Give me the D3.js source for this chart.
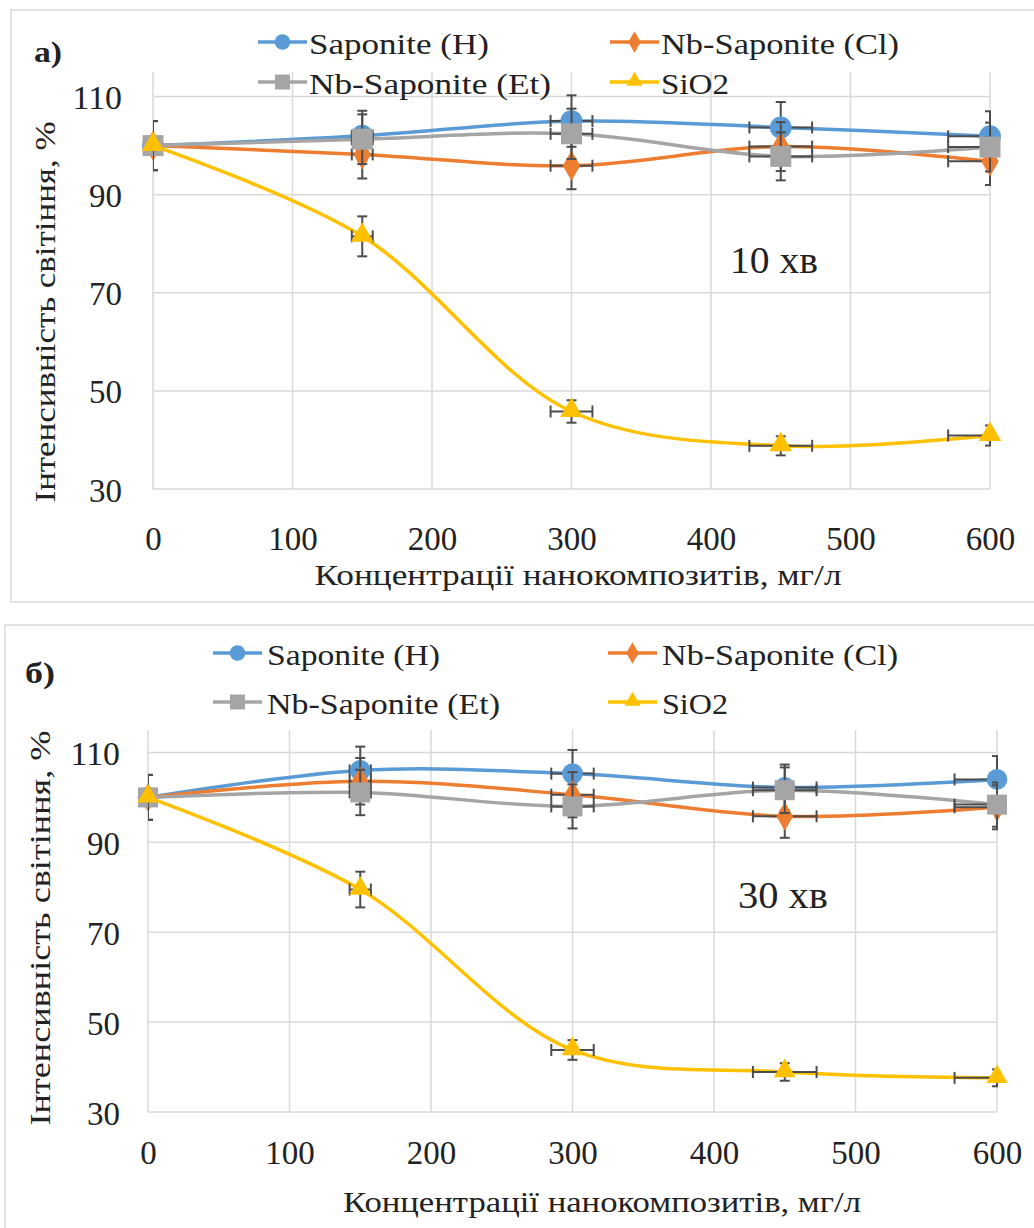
<!DOCTYPE html>
<html>
<head>
<meta charset="utf-8">
<script src="https://cdn.jsdelivr.net/npm/d3@7"></script>
<style>
  body { margin: 0; background: #fff; }
  svg text { font-family: "Liberation Serif", "Times New Roman", "DejaVu Serif", serif; fill: #222; }
</style>
</head>
<body>
<div id="main"></div>
<script>
// ---- data ----
const concentrations = [0, 150, 300, 450, 600];
const seriesNames = ["Saponite (H)", "Nb-Saponite (Cl)", "Nb-Saponite (Et)", "SiO2"];
const seriesColors = ["#5B9BD5", "#ED7D31", "#A5A5A5", "#FFC000"];
const seriesMarkers = ["circle", "diamond", "square", "triangle"];

// 10 хв
const sapH_10 = [100, 102, 105, 103.7, 101.9];
const nbCl_10 = [100, 98.2, 95.9, 99.8, 96.8];
const nbEt_10 = [100, 101.3, 102.4, 97.8, 99.7];
const sio2_10 = [100, 81.5, 45.8, 38.8, 40.9];

// 30 хв
const sapH_30 = [100, 106, 105.3, 102.2, 104];
const nbCl_30 = [100, 103.6, 100.6, 95.8, 97.8];
const nbEt_30 = [100, 101.1, 98, 101.6, 98.4];
const sio2_30 = [100, 79.5, 43.8, 38.9, 37.6];

// error bars (percentage, both directions)
const errorPercent = 5;

const yTicks = [30, 50, 70, 90, 110];
const xTicks = [0, 100, 200, 300, 400, 500, 600];

const yTitle = "Інтенсивність світіння, %";
const xTitle = "Концентрації нанокомпозитів, мг/л";

const svgWidth = 1034, svgHeight = 1228;
const digitW = 16.5;   // tick label width per digit
const tickStretch = 1.15;

var svg = d3.select("#main").append("svg")
  .attr("width", svgWidth).attr("height", svgHeight);

function addText(g, x, y, str, size, len, opts) {
  opts = opts || {};
  var t = g.append("text")
    .attr("transform", "translate(" + x + "," + y + ")" + (opts.rotate ? " rotate(-90)" : ""))
    .attr("font-size", size)
    .attr("text-anchor", opts.anchor || "start")
    .text(str);
  if (len) t.attr("textLength", len).attr("lengthAdjust", "spacingAndGlyphs");
  if (opts.bold) t.attr("font-weight", "bold");
  return t;
}

function marker(g, type, x, y, color, s) {
  if (type == "circle") {
    g.append("circle").attr("cx", x).attr("cy", y).attr("r", s * 0.52).attr("fill", color);
  } else {
    var sym = type == "diamond" ? d3.symbolDiamond : type == "square" ? d3.symbolSquare : d3.symbolTriangle;
    var area = type == "square" ? s * s : type == "diamond" ? s * s * 0.6 : s * s * 0.5;
    g.append("path").attr("d", d3.symbol().type(sym).size(area)())
      .attr("transform", "translate(" + x + "," + (type == "triangle" ? y - 1 : y) + ")")
      .attr("fill", color);
  }
}

function drawPanel(cfg, series) {
  var g = svg.append("g");

  // frame
  g.append("rect").attr("x", cfg.frame[0]).attr("y", cfg.frame[1])
    .attr("width", cfg.frame[2]).attr("height", cfg.frame[3])
    .attr("fill", "none").attr("stroke", "#d9d9d9").attr("stroke-width", 1.5);

  var x = d3.scaleLinear().domain([0, 600]).range([cfg.x0, cfg.x1]);
  var y = d3.scaleLinear().domain([30, 115]).range([cfg.y30, cfg.y115]);

  // grid
  g.append("g").selectAll("line").data(yTicks).enter().append("line")
    .attr("x1", x(0)).attr("x2", x(600))
    .attr("y1", d => y(d)).attr("y2", d => y(d))
    .attr("stroke", "#d9d9d9").attr("stroke-width", 1.5);
  g.append("g").selectAll("line").data(xTicks).enter().append("line")
    .attr("x1", d => x(d)).attr("x2", d => x(d))
    .attr("y1", y(30)).attr("y2", y(115))
    .attr("stroke", "#d9d9d9").attr("stroke-width", 1.5);

  // axes (labels only)
  var yAxis = g.append("g").attr("transform", "translate(" + x(0) + ",0)")
    .call(d3.axisLeft(y).tickValues(yTicks).tickSize(0).tickPadding(cfg.yPad));
  var xAxis = g.append("g").attr("transform", "translate(0," + y(30) + ")")
    .call(d3.axisBottom(x).tickValues(xTicks).tickSize(0).tickPadding(0));
  [yAxis, xAxis].forEach(function (a) {
    a.select(".domain").remove();
    a.selectAll("text").attr("font-size", 30).attr("fill", "#222")
      .attr("dy", 0)
      .attr("textLength", d => String(d).length * digitW)
      .attr("lengthAdjust", "spacingAndGlyphs");
  });
  yAxis.selectAll("text").attr("transform", "translate(0,12) scale(1," + tickStretch + ")");
  xAxis.selectAll("text").attr("y", 0)
    .attr("transform", "translate(0," + cfg.xBase + ") scale(1," + tickStretch + ")");

  // titles
  addText(g, cfg.xTitle[0], cfg.xTitle[1], xTitle, 30, cfg.xTitle[2], { anchor: "middle" });
  addText(g, cfg.yTitle[0], cfg.yTitle[1], yTitle, 30, cfg.yTitle[2], { anchor: "middle", rotate: true });
  addText(g, cfg.label[0], cfg.label[1], cfg.labelText, 30, cfg.label[2], { bold: true });
  addText(g, cfg.note[0], cfg.note[1], cfg.noteText, 38, cfg.note[2]);

  // legend
  series.forEach(function (s, i) {
    var lx = cfg.legX[i % 2], ly = cfg.legY[Math.floor(i / 2)];
    g.append("line").attr("x1", lx).attr("x2", lx + 49).attr("y1", ly).attr("y2", ly)
      .attr("stroke", seriesColors[i]).attr("stroke-width", 3.5);
    marker(g, seriesMarkers[i], lx + 24.5, ly, seriesColors[i], 15);
    addText(g, lx + cfg.legGap, ly + 12, seriesNames[i], 30, cfg.legW[i]);
  });

  // clip for error bars
  var clipId = "clip" + cfg.labelText.charCodeAt(0);
  g.append("clipPath").attr("id", clipId).append("rect")
    .attr("x", x(0)).attr("y", y(115)).attr("width", x(600) - x(0) + 1).attr("height", y(30) - y(115));

  var line = d3.line().x((d, j) => x(concentrations[j])).y(d => y(d))
    .curve(d3.curveCatmullRom.alpha(0.5));

  series.forEach(function (vals, i) {
    var sg = g.append("g");
    sg.append("path").attr("d", line(vals)).attr("fill", "none")
      .attr("stroke", seriesColors[i]).attr("stroke-width", 3.5);

    var eg = sg.append("g").attr("clip-path", "url(#" + clipId + ")")
      .attr("stroke", "#4d4d4d").attr("stroke-width", 2);
    vals.forEach(function (v, j) {
      var cx = x(concentrations[j]), cy = y(v);
      var ey = v * errorPercent / 100, ex = concentrations[j] * errorPercent / 100;
      eg.append("line").attr("x1", cx).attr("x2", cx).attr("y1", y(v + ey)).attr("y2", y(v - ey));
      eg.append("line").attr("x1", cx - 5).attr("x2", cx + 5).attr("y1", y(v + ey)).attr("y2", y(v + ey));
      eg.append("line").attr("x1", cx - 5).attr("x2", cx + 5).attr("y1", y(v - ey)).attr("y2", y(v - ey));
      if (ex > 0) {
        var xl = x(concentrations[j] - ex), xr = x(concentrations[j] + ex);
        eg.append("line").attr("x1", xl).attr("x2", xr).attr("y1", cy).attr("y2", cy);
        eg.append("line").attr("x1", xl).attr("x2", xl).attr("y1", cy - 6).attr("y2", cy + 6);
        eg.append("line").attr("x1", xr).attr("x2", xr).attr("y1", cy - 6).attr("y2", cy + 6);
      }
    });

    vals.forEach(function (v, j) {
      marker(sg, seriesMarkers[i], x(concentrations[j]), y(v), seriesColors[i], cfg.markerSize);
    });
  });
}

drawPanel({
  frame: [11, 10, 1040, 592],
  x0: 153, x1: 990, y30: 489, y115: 72,
  yPad: 31, xBase: 61,
  xTitle: [578, 585, 527], yTitle: [55, 312, 381],
  label: [34, 62, 28], labelText: "a)",
  note: [730, 273, 88], noteText: "10 хв",
  legX: [258, 610], legY: [42, 82], legGap: 51,
  legW: [180, 238, 242, 68],
  markerSize: 21
}, [sapH_10, nbCl_10, nbEt_10, sio2_10]);

drawPanel({
  frame: [5, 625, 1045, 620],
  x0: 148, x1: 997, y30: 1112, y115: 730,
  yPad: 28, xBase: 52,
  xTitle: [602, 1212, 518], yTitle: [50, 928, 395],
  label: [25, 683, 30], labelText: "б)",
  note: [738, 908, 90], noteText: "30 хв",
  legX: [213, 608], legY: [653, 702], legGap: 54,
  legW: [173, 236, 233, 66],
  markerSize: 20
}, [sapH_30, nbCl_30, nbEt_30, sio2_30]);
</script>
</body>
</html>
